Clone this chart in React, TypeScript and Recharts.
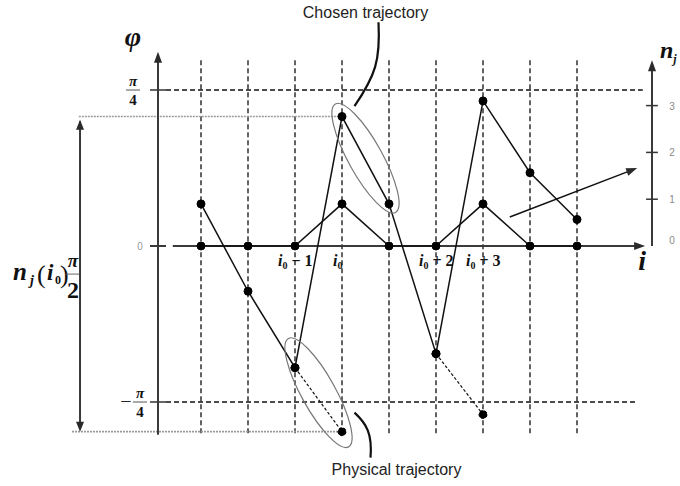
import React from 'react';
import { ComposedChart, Line, XAxis, YAxis, ReferenceLine, ReferenceDot } from 'recharts';

const WIDTH = 680;
const HEIGHT = 486;

// Sample index along the i axis
const steps = [0, 1, 2, 3, 4, 5, 6, 7, 8];
// Chosen (wrapped) phase, in units of π/4
const chosenPhase = [0.27, -0.29, -0.78, 0.83, 0.27, -0.69, 0.93, 0.47, 0.17];
// Physical phase where it leaves the ±π/4 band
const physicalPhase = [null, null, -0.78, -1.19, null, -0.69, -1.08, null, null];
// Wrap count n_j, read against the right-hand axis
const wrapCount = [0, 0, 0, 0.9, 0, 0, 0.9, 0, 0];
// Labels under the i axis
const stepLabelIndex = [2, 3, 5, 6];
const stepLabelSuffix = ['\u2212 1', '', '+ 2', '+ 3'];
// Right-hand axis ticks
const countTicks = [0, 1, 2, 3];
// Dashed phase limits ±π/4
const phaseLimits = [1, -1];
const phaseLimitNegative = [false, true];

// Layout of the drawing in data units (i steps, π/4 units, counts)
const K_DOMAIN: [number, number] = [-201 / 47, 479 / 47];
const PHI_DOMAIN: [number, number] = [-240 / 156, 246 / 156];
const COUNT_UNIT = 0.3; // one n_j step expressed in π/4 units
const N_DOMAIN: [number, number] = [PHI_DOMAIN[0] / COUNT_UNIT, PHI_DOMAIN[1] / COUNT_UNIT];

const PHI_AXIS_K = -0.915;
const PHI_AXIS_TOP = 1.245;
const PHI_AXIS_BOTTOM = -1.21;
const I_AXIS_START = -0.6;
const I_AXIS_END = 9.45;
const TICK_FROM = -1.085;
const TICK_TO = -0.745;
const GRID_TOP = 1.19;
const GRID_BOTTOM = -1.22;
const LIMIT_RIGHT = [9.4, 9.25];
const N_AXIS_K = 9.596;
const N_AXIS_TOP = 3.97;
const N_TICK_FROM = 9.47;
const N_TICK_TO = 9.72;
const SPAN_K = -2.574;
const GUIDE_LEFT = [-2.6, -2.745];
const POINTER_FROM = { k: 6.57, v: 0.186 };
const POINTER_TO = { k: 9.28, v: 0.5 };

const SERIF = '"Liberation Serif", "DejaVu Serif", serif';
const SANS = '"Liberation Sans", Arial, sans-serif';
const INK = '#111';

const AXIS = { stroke: '#3a3a3a', strokeWidth: 2 };
const GRID = { stroke: INK, strokeWidth: 1.3, strokeDasharray: '5 3' };
const GUIDE = { stroke: '#9a9a9a', strokeWidth: 1.6, strokeDasharray: '2 1' };

const rows = steps.map((k, i) => ({
  k,
  chosen: chosenPhase[i],
  physical: physicalPhase[i],
  count: wrapCount[i],
}));

const at = (render: (x: number, y: number) => React.ReactElement) => (p: any) => render(p.cx, p.cy);

const arrowHead = (angle: number, len = 10, half = 4) =>
  at((x, y) => (
    <path
      d={`M0,0 L${-len},${-half} L${-len},${half} Z`}
      transform={`translate(${x},${y}) rotate(${angle})`}
      fill="#2a2a2a"
    />
  ));

const seg = (
  key: string,
  x1: number,
  y1: number,
  x2: number,
  y2: number,
  style: Record<string, any>,
  axis = 'phi'
) => (
  <ReferenceLine
    key={key}
    yAxisId={axis}
    segment={[
      { x: x1, y: y1 },
      { x: x2, y: y2 },
    ]}
    ifOverflow="visible"
    {...style}
  />
);

const mark = (key: string, x: number, y: number, shape: (p: any) => React.ReactElement, axis = 'phi') => (
  <ReferenceDot key={key} x={x} y={y} yAxisId={axis} r={1} ifOverflow="visible" shape={shape} />
);

const fraction = (negative: boolean, dx: number) =>
  at((x, y) => {
    const c = x + dx;
    return (
      <g fontFamily={SERIF} fontWeight="bold" fill={INK} textAnchor="middle">
        <text x={c - 14} y={y + 6} fontSize={20} fontWeight="normal" fill="#222">
          {negative ? '\u2212' : ''}
        </text>
        <text x={c} y={y - 4} fontSize={15} fontStyle="italic">
          π
        </text>
        <path d={`M${c - 7},${y}H${c + 7}`} stroke="#555" strokeWidth={1} fill="none" />
        <text x={c} y={y + 15} fontSize={15}>
          4
        </text>
      </g>
    );
  });

const stepLabel = (suffix: string) =>
  at((x, y) => (
    <text x={x - (suffix ? 17 : 9)} y={y + 20} fontFamily={SERIF} fontWeight="bold" fontSize={16} fill={INK}>
      <tspan fontStyle="italic">i</tspan>
      <tspan fontSize={10} dy={3}>
        0
      </tspan>
      {suffix && (
        <tspan dy={-3} dx={4}>
          {suffix}
        </tspan>
      )}
    </text>
  ));

const spanLabel = at((x, y) => (
  <g fontFamily={SERIF} fontWeight="bold" fill={INK}>
    <text x={x - 67} y={y + 6} fontSize={25} fontStyle="italic">
      n
    </text>
    <text x={x - 50} y={y + 11} fontSize={14} fontStyle="italic">
      j
    </text>
    <text x={x - 43} y={y + 9} fontSize={26} fontWeight="normal">
      (
    </text>
    <text x={x - 33} y={y + 6} fontSize={23} fontStyle="italic">
      i
    </text>
    <text x={x - 25} y={y + 10} fontSize={12}>
      0
    </text>
    <text x={x - 20} y={y + 9} fontSize={26} fontWeight="normal">
      )
    </text>
    <text x={x - 7} y={y - 7} fontSize={19} fontStyle="italic" textAnchor="middle">
      π
    </text>
    <path d={`M${x - 14},${y}H${x - 1}`} stroke="#666" strokeWidth={1} fill="none" />
    <text x={x - 7} y={y + 24} fontSize={24} textAnchor="middle">
      2
    </text>
  </g>
));

const ellipse = (dy: number) =>
  at((x, y) => (
    <ellipse
      cx={x}
      cy={y + dy}
      rx={62}
      ry={17}
      transform={`rotate(61 ${x} ${y + dy})`}
      fill="none"
      stroke="#777"
      strokeWidth={1.2}
    />
  ));

const chosenNote = at((x, y) => (
  <g>
    <path
      d={`M${x + 13},${y - 138} C${x + 15},${y - 100} ${x + 10},${y - 85} ${x - 11},${y - 54}`}
      fill="none"
      stroke={INK}
      strokeWidth={2.2}
    />
    <text x={x} y={y - 142} fontFamily={SANS} fontSize={16} fill="#222" textAnchor="middle">
      Chosen trajectory
    </text>
  </g>
));

const physicalNote = at((x, y) => (
  <g>
    <path
      d={`M${x + 36},${y + 13} C${x + 48},${y + 24} ${x + 54},${y + 34} ${x + 52},${y + 58}`}
      fill="none"
      stroke={INK}
      strokeWidth={2.2}
    />
    <text x={x + 78} y={y + 75} fontFamily={SANS} fontSize={16} fill="#222" textAnchor="middle">
      Physical trajectory
    </text>
  </g>
));

const plainText = (
  content: string,
  dx: number,
  dy: number,
  opts: { size: number; family?: string; fill?: string; italic?: boolean; bold?: boolean; anchor?: string }
) =>
  at((x, y) => (
    <text
      x={x + dx}
      y={y + dy}
      fontFamily={opts.family || SERIF}
      fontSize={opts.size}
      fill={opts.fill || INK}
      fontStyle={opts.italic ? 'italic' : 'normal'}
      fontWeight={opts.bold ? 'bold' : 'normal'}
      textAnchor={opts.anchor || 'middle'}
    >
      {content}
    </text>
  ));

export default function App() {
  const topCenterK = (steps[3] + steps[4]) / 2;
  const topCenterV = (chosenPhase[3] + chosenPhase[4]) / 2;
  const lowCenterK = (steps[2] + steps[3]) / 2;
  const lowCenterV = ((chosenPhase[2] as number) + (physicalPhase[3] as number)) / 2;
  const spanTop = chosenPhase[3];
  const spanBottom = physicalPhase[3] as number;

  return (
    <div style={{ position: 'absolute', left: 0, top: 0, width: WIDTH, height: HEIGHT, background: '#fff' }}>
      <ComposedChart width={WIDTH} height={HEIGHT} data={rows} margin={{ top: 0, right: 0, bottom: 0, left: 0 }}>
        <XAxis dataKey="k" type="number" domain={K_DOMAIN} allowDataOverflow hide />
        <YAxis yAxisId="phi" type="number" domain={PHI_DOMAIN} allowDataOverflow hide />
        <YAxis yAxisId="n" type="number" domain={N_DOMAIN} allowDataOverflow hide orientation="right" />

        {/* vertical step grid */}
        {steps.map((k) => seg(`grid-${k}`, k, GRID_TOP, k, GRID_BOTTOM, GRID))}

        {/* ±π/4 limits */}
        {phaseLimits.map((v, i) => seg(`lim-tick-${i}`, TICK_FROM, v, TICK_TO, v, { stroke: '#333', strokeWidth: 1.5 }))}
        {phaseLimits.map((v, i) => seg(`lim-${i}`, TICK_TO, v, LIMIT_RIGHT[i], v, GRID))}

        {/* guides marking the π/2 jump at i0 */}
        {seg('guide-top', GUIDE_LEFT[0], spanTop, steps[3], spanTop, GUIDE)}
        {seg('guide-bottom', GUIDE_LEFT[1], spanBottom, steps[3], spanBottom, GUIDE)}
        {seg('span', SPAN_K, spanTop - 0.03, SPAN_K, spanBottom + 0.03, AXIS)}
        {mark('span-up', SPAN_K, spanTop - 0.02, arrowHead(-90, 10, 4))}
        {mark('span-down', SPAN_K, spanBottom, arrowHead(90, 10, 4))}

        {/* φ axis */}
        {seg('phi-axis', PHI_AXIS_K, PHI_AXIS_BOTTOM, PHI_AXIS_K, PHI_AXIS_TOP - 0.03, AXIS)}
        {mark('phi-arrow', PHI_AXIS_K, PHI_AXIS_TOP, arrowHead(-90, 11, 4))}
        {seg('zero-tick', TICK_FROM, 0, TICK_TO, 0, AXIS)}

        {/* i axis */}
        {seg('i-axis', I_AXIS_START, 0, I_AXIS_END - 0.1, 0, AXIS)}
        {mark('i-arrow', I_AXIS_END, 0, arrowHead(0, 11, 4))}

        {/* n_j axis */}
        {seg('n-axis', N_AXIS_K, 0, N_AXIS_K, N_AXIS_TOP - 0.1, AXIS, 'n')}
        {mark('n-arrow', N_AXIS_K, N_AXIS_TOP, arrowHead(-90, 11, 4), 'n')}
        {countTicks
          .filter((n) => n > 0)
          .map((n) => seg(`n-tick-${n}`, N_TICK_FROM, n, N_TICK_TO, n, { stroke: '#333', strokeWidth: 1.5 }, 'n'))}
        {countTicks.map((n) =>
          mark(`n-label-${n}`, N_AXIS_K, n, plainText(String(n), 20, n === 0 ? -2 : 4, { size: 10, family: SANS, fill: '#8a8a8a' }), 'n')
        )}

        {/* pointer from the n_j series to its axis */}
        {seg('pointer', POINTER_FROM.k, POINTER_FROM.v, POINTER_TO.k - 0.1, POINTER_TO.v - 0.012, { stroke: INK, strokeWidth: 1.5 })}
        {mark('pointer-head', POINTER_TO.k, POINTER_TO.v, arrowHead(-21, 11, 4))}

        {/* axis and limit labels */}
        {mark('phi-label', PHI_AXIS_K, PHI_AXIS_TOP, plainText('φ', -25, -6, { size: 28, bold: true, italic: true }))}
        {mark('zero-label', PHI_AXIS_K, 0, plainText('0', -18, 4, { size: 10, family: SANS, fill: '#999' }))}
        {phaseLimits.map((v, i) => mark(`lim-label-${i}`, PHI_AXIS_K, v, fraction(phaseLimitNegative[i], phaseLimitNegative[i] ? -18 : -25)))}
        {mark('i-label', I_AXIS_END, 0, plainText('i', -3, 24, { size: 28, bold: true, italic: true }))}
        {mark(
          'n-title',
          N_AXIS_K,
          N_AXIS_TOP,
          at((x, y) => (
            <text x={x + 8} y={y - 2} fontFamily={SERIF} fontWeight="bold" fontStyle="italic" fontSize={24} fill={INK}>
              n
              <tspan fontSize={12} dy={5}>
                j
              </tspan>
            </text>
          )),
          'n'
        )}
        {stepLabelIndex.map((k, i) => mark(`step-${k}`, steps[k], 0, stepLabel(stepLabelSuffix[i])))}
        {mark('span-label', SPAN_K, (spanTop + spanBottom) / 2, spanLabel)}

        {/* trajectory callouts */}
        {mark('ellipse-top', topCenterK, topCenterV, ellipse(-2))}
        {mark('ellipse-low', lowCenterK, lowCenterV, ellipse(-7))}
        {mark('note-top', topCenterK, topCenterV, chosenNote)}
        {mark('note-low', lowCenterK, lowCenterV, physicalNote)}

        {/* series */}
        <Line
          yAxisId="n"
          dataKey="count"
          type="linear"
          stroke={INK}
          strokeWidth={1.5}
          dot={{ r: 4, fill: '#000', stroke: '#000', strokeWidth: 1 }}
          activeDot={false}
          isAnimationActive={false}
        />
        <Line
          yAxisId="phi"
          dataKey="physical"
          type="linear"
          stroke={INK}
          strokeWidth={1.2}
          strokeDasharray="3 2"
          connectNulls={false}
          dot={{ r: 4, fill: '#000', stroke: '#000', strokeWidth: 1 }}
          activeDot={false}
          isAnimationActive={false}
        />
        <Line
          yAxisId="phi"
          dataKey="chosen"
          type="linear"
          stroke={INK}
          strokeWidth={1.5}
          dot={{ r: 4, fill: '#000', stroke: '#000', strokeWidth: 1 }}
          activeDot={false}
          isAnimationActive={false}
        />
      </ComposedChart>
    </div>
  );
}
